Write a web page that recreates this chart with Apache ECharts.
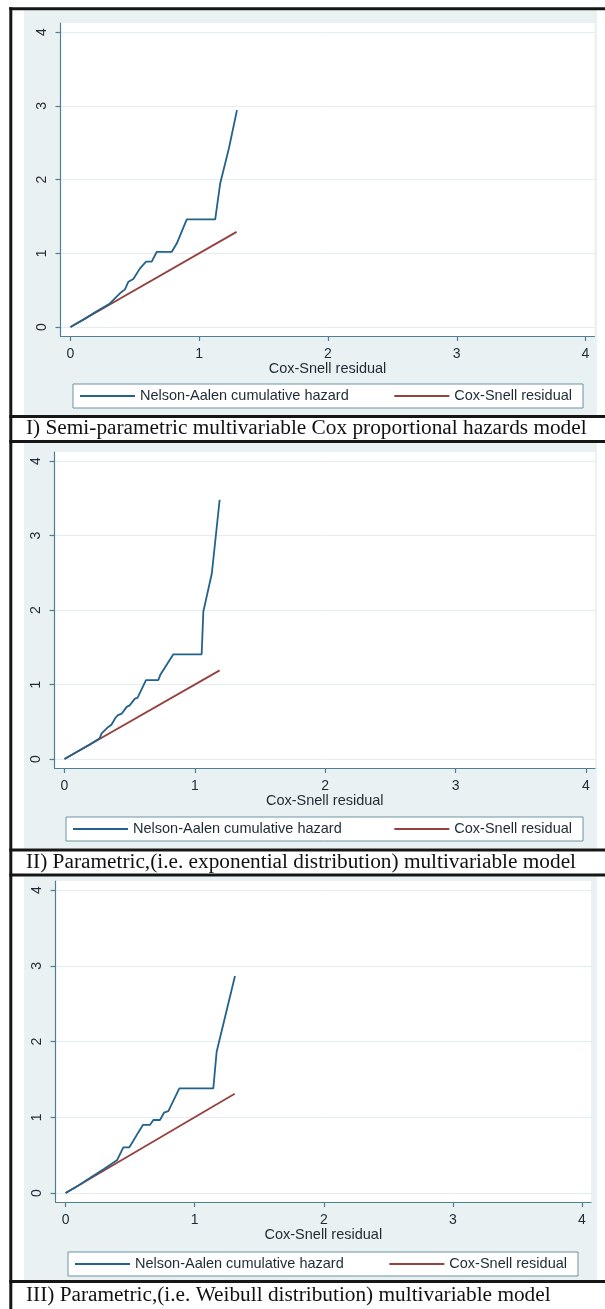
<!DOCTYPE html>
<html><head><meta charset="utf-8">
<script src="https://cdn.jsdelivr.net/npm/echarts@6/dist/echarts.min.js"></script>
<style>html,body{margin:0;padding:0;background:#fff}#c{width:605px;height:1309px}</style>
</head><body><div id="c"></div>
<script>
// ---- data ----
const xTicks = [0, 1, 2, 3, 4];
const yTicks = [0, 1, 2, 3, 4];
const xAxisTitle = 'Cox-Snell residual';
const naName = 'Nelson-Aalen cumulative hazard';
const csName = 'Cox-Snell residual';
const captions = [
  'I) Semi-parametric multivariable Cox proportional hazards model',
  'II) Parametric,(i.e. exponential distribution) multivariable model',
  'III) Parametric,(i.e. Weibull distribution) multivariable model'
];
// Panel I
const na1X = [0, 0.10, 0.20, 0.30, 0.345, 0.384, 0.423, 0.45, 0.488, 0.54, 0.587, 0.631, 0.67, 0.787, 0.826, 0.903, 1.124, 1.163, 1.23, 1.293];
const na1Y = [0, 0.10, 0.21, 0.31, 0.389, 0.457, 0.51, 0.614, 0.65, 0.795, 0.886, 0.886, 1.02, 1.02, 1.135, 1.46, 1.46, 1.95, 2.42, 2.94];
const cs1X = [0, 1.29];
const cs1Y = [0, 1.29];
// Panel II
const na2X = [0, 0.10, 0.20, 0.27, 0.285, 0.30, 0.336, 0.36, 0.39, 0.41, 0.44, 0.477, 0.50, 0.54, 0.56, 0.625, 0.72, 0.735, 0.835, 1.052, 1.065, 1.13, 1.19];
const na2Y = [0, 0.10, 0.20, 0.28, 0.345, 0.36, 0.43, 0.46, 0.55, 0.59, 0.61, 0.70, 0.72, 0.81, 0.82, 1.06, 1.06, 1.13, 1.405, 1.405, 1.98, 2.49, 3.48];
const cs2X = [0, 1.19];
const cs2Y = [0, 1.19];
// Panel III
const na3X = [0, 0.10, 0.20, 0.30, 0.40, 0.447, 0.494, 0.52, 0.563, 0.60, 0.654, 0.68, 0.731, 0.762, 0.796, 0.881, 1.144, 1.17, 1.312];
const na3Y = [0, 0.10, 0.21, 0.32, 0.436, 0.603, 0.603, 0.677, 0.80, 0.90, 0.90, 0.964, 0.964, 1.06, 1.08, 1.38, 1.38, 1.865, 2.865];
const cs3X = [0, 1.31];
const cs3Y = [0, 1.31];

const panelsData = [
  {naX: na1X, naY: na1Y, csX: cs1X, csY: cs1Y},
  {naX: na2X, naY: na2Y, csX: cs2X, csY: cs2Y},
  {naX: na3X, naY: na3Y, csX: cs3X, csY: cs3Y}
];

// ---- layout / style ----
const W = 605, H = 1309;
const sans = '"Liberation Sans", Arial, sans-serif';
const serif = '"Liberation Serif", "Times New Roman", serif';
const textColor = '#1e2b33';
const axisColor = '#4f7f90';
const gridColor = '#e3ecf0';
const bgColor = '#e9f1f3';
const naColor = '#22628b';
const csColor = '#95413f';
const fs = 14;
const lfs = 14.5;

const layouts = [
  {x0: 70.5, x4: 585.5, y0: 327, y4: 32, bgTop: 10.3, bgBot: 415, legTop: 384, legLeft: 73, legRight: 583, capMid: 428.5},
  {x0: 64.5, x4: 586, y0: 759, y4: 461, bgTop: 443, bgBot: 848.5, legTop: 817, legLeft: 66, legRight: 583, capMid: 862},
  {x0: 65.6, x4: 582, y0: 1193, y4: 890, bgTop: 876.5, bgBot: 1280, legTop: 1252, legLeft: 68, legRight: 578, capMid: 1295}
];
const mL = 10, mR = 9, mB = 9, mT = 9;
const hLines = [8.8, 416.5, 441.5, 850, 875, 1281.5];

const ctx = document.createElement('canvas').getContext('2d');
ctx.font = lfs + 'px ' + sans;
const wNa = ctx.measureText(naName).width;
const wCs = ctx.measureText(csName).width;

const grids = [], xAxes = [], yAxes = [], series = [], legends = [], graphics = [];

layouts.forEach((L, i) => {
  const sx = (L.x4 - L.x0) / 4, sy = (L.y0 - L.y4) / 4;
  grids.push({left: L.x0 - mL, top: L.y4 - mT, width: L.x4 - L.x0 + mL + mR, height: L.y0 - L.y4 + mT + mB,
    show: true, backgroundColor: '#ffffff', borderWidth: 0, containLabel: false});
  xAxes.push({
    type: 'value', gridIndex: i, min: -mL / sx, max: 4 + mR / sx,
    axisLine: {show: true, onZero: false, lineStyle: {color: axisColor, width: 1.2}},
    axisTick: {show: true, length: 5, customValues: xTicks, lineStyle: {color: axisColor, width: 1.2}},
    axisLabel: {customValues: xTicks, margin: 11, fontSize: fs, fontFamily: sans, color: textColor},
    splitLine: {show: false},
    name: xAxisTitle, nameLocation: 'middle', nameGap: 25,
    nameTextStyle: {fontSize: lfs, fontFamily: sans, color: textColor}
  });
  yAxes.push({
    type: 'value', gridIndex: i, min: -mB / sy, max: 4 + mT / sy,
    axisLine: {show: true, onZero: false, lineStyle: {color: axisColor, width: 1.2}},
    axisTick: {show: true, length: 5, customValues: yTicks, lineStyle: {color: axisColor, width: 1.2}},
    axisLabel: {customValues: yTicks, rotate: 90, margin: 11, fontSize: fs, fontFamily: sans, color: textColor},
    splitLine: {show: true, lineStyle: {color: gridColor, width: 1}}
  });
  const d = panelsData[i];
  series.push({
    name: naName, type: 'line', xAxisIndex: i, yAxisIndex: i,
    data: d.naX.map((v, k) => [v, d.naY[k]]),
    symbol: 'none', showSymbol: false, lineStyle: {color: naColor, width: 1.8}, itemStyle: {color: naColor},
    z: 3, animation: false
  });
  series.push({
    name: csName, type: 'line', xAxisIndex: i, yAxisIndex: i,
    data: d.csX.map((v, k) => [v, d.csY[k]]),
    symbol: 'none', showSymbol: false, lineStyle: {color: csColor, width: 1.8}, itemStyle: {color: csColor},
    z: 2, animation: false
  });
  const boxW = L.legRight - L.legLeft;
  const padL = 7, padR = 11;
  const gap = boxW - padL - padR - (55 + 5 + wNa + 55 + 5 + wCs);
  legends.push({
    left: L.legLeft, top: L.legTop, orient: 'horizontal',
    icon: 'rect', itemWidth: 55, itemHeight: 1.8, itemGap: gap,
    padding: [4, padR, 4, padL],
    backgroundColor: '#ffffff', borderColor: '#6a93a1', borderWidth: 1,
    selectedMode: false,
    textStyle: {fontSize: lfs, fontFamily: sans, color: textColor, lineHeight: 16},
    data: [naName, csName]
  });
  graphics.push({type: 'rect', z: -10, silent: true,
    shape: {x: 24, y: L.bgTop, width: 573, height: L.bgBot - L.bgTop},
    style: {fill: bgColor}});
  graphics.push({type: 'text', z: 10, silent: true, x: 26, y: L.capMid,
    style: {text: captions[i], font: '21.3px ' + serif, fill: '#111', verticalAlign: 'middle', align: 'left'}});
});

hLines.forEach(y => {
  graphics.push({type: 'line', z: 20, silent: true, shape: {x1: 9.3, y1: y, x2: W, y2: y},
    style: {stroke: '#161616', lineWidth: 3}});
});
graphics.push({type: 'line', z: 20, silent: true, shape: {x1: 10.8, y1: 7.3, x2: 10.8, y2: H},
  style: {stroke: '#161616', lineWidth: 3}});

const chart = echarts.init(document.getElementById('c'), null, {renderer: 'canvas', width: W, height: H});
chart.setOption({
  animation: false,
  backgroundColor: '#ffffff',
  grid: grids, xAxis: xAxes, yAxis: yAxes, series: series, legend: legends,
  graphic: {elements: graphics}
});
</script></body></html>
